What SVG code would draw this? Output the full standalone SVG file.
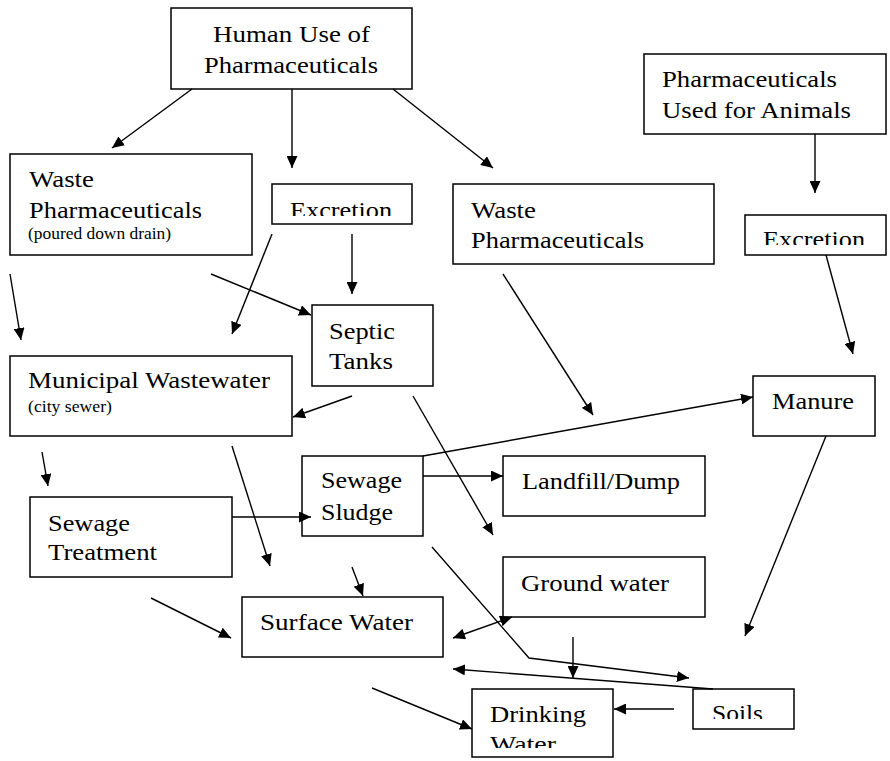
<svg xmlns="http://www.w3.org/2000/svg" width="890" height="761" viewBox="0 0 890 761">
<style>
.box{fill:#fff;stroke:#000;stroke-width:1.5}
.t{font-family:"Liberation Serif","Times New Roman",serif;font-size:24px;fill:#000}
.s{font-family:"Liberation Serif","Times New Roman",serif;font-size:16px;fill:#000}
.c line,.c polyline{stroke:#000;stroke-width:1.4;fill:none}
.a{marker-end:url(#ah)}
.b{marker-start:url(#ahs);marker-end:url(#ah)}
</style>
<defs>
<marker id="ah" markerUnits="userSpaceOnUse" markerWidth="13" markerHeight="11" refX="12" refY="5.5" orient="auto">
<path d="M0,0 L12,5.5 L0,11 z" fill="#000"/>
</marker>
<marker id="ahs" markerUnits="userSpaceOnUse" markerWidth="13" markerHeight="11" refX="0" refY="5.5" orient="auto">
<path d="M12,0 L0,5.5 L12,11 z" fill="#000"/>
</marker>
<clipPath id="cpExL"><rect x="272" y="184" width="140" height="32"/></clipPath>
<clipPath id="cpExR"><rect x="745" y="215" width="141" height="30"/></clipPath>
<clipPath id="cpSoil"><rect x="693" y="689" width="101" height="30"/></clipPath>
<clipPath id="cpDrink"><rect x="472" y="689" width="141" height="59"/></clipPath>
</defs>

<g id="human">
<rect class="box" x="171" y="8" width="241" height="81"/>
<text class="t" x="213" y="42" textLength="157" lengthAdjust="spacingAndGlyphs">Human Use of</text>
<text class="t" x="204" y="73" textLength="174" lengthAdjust="spacingAndGlyphs">Pharmaceuticals</text>
</g>
<g id="animals">
<rect class="box" x="644" y="54" width="242" height="80"/>
<text class="t" x="662" y="87" textLength="175" lengthAdjust="spacingAndGlyphs">Pharmaceuticals</text>
<text class="t" x="662" y="118" textLength="189" lengthAdjust="spacingAndGlyphs">Used for Animals</text>
</g>
<g id="waste-left">
<rect class="box" x="10" y="154" width="242" height="101"/>
<text class="t" x="29" y="187" textLength="65" lengthAdjust="spacingAndGlyphs">Waste</text>
<text class="t" x="29" y="218" textLength="173" lengthAdjust="spacingAndGlyphs">Pharmaceuticals</text>
<text class="s" x="28" y="239" textLength="143" lengthAdjust="spacingAndGlyphs">(poured down drain)</text>
</g>
<g id="excretion-left">
<rect class="box" x="272" y="184" width="140" height="40"/>
<text class="t" x="290" y="218" textLength="102" lengthAdjust="spacingAndGlyphs" clip-path="url(#cpExL)">Excretion</text>
</g>
<g id="waste-right">
<rect class="box" x="453" y="184" width="261" height="80"/>
<text class="t" x="471" y="218" textLength="65" lengthAdjust="spacingAndGlyphs">Waste</text>
<text class="t" x="471" y="248" textLength="173" lengthAdjust="spacingAndGlyphs">Pharmaceuticals</text>
</g>
<g id="excretion-right">
<rect class="box" x="745" y="215" width="141" height="40"/>
<text class="t" x="763" y="247" textLength="102" lengthAdjust="spacingAndGlyphs" clip-path="url(#cpExR)">Excretion</text>
</g>
<g id="septic">
<rect class="box" x="312" y="305" width="121" height="81"/>
<text class="t" x="329" y="339" textLength="66" lengthAdjust="spacingAndGlyphs">Septic</text>
<text class="t" x="329" y="369" textLength="64" lengthAdjust="spacingAndGlyphs">Tanks</text>
</g>
<g id="municipal">
<rect class="box" x="10" y="356" width="282" height="80"/>
<text class="t" x="28" y="388" textLength="242" lengthAdjust="spacingAndGlyphs">Municipal Wastewater</text>
<text class="s" x="28" y="412" textLength="84" lengthAdjust="spacingAndGlyphs">(city sewer)</text>
</g>
<g id="manure">
<rect class="box" x="753" y="376" width="122" height="60"/>
<text class="t" x="772" y="409" textLength="82" lengthAdjust="spacingAndGlyphs">Manure</text>
</g>
<g id="sludge">
<rect class="box" x="302" y="456" width="121" height="80"/>
<text class="t" x="321" y="488" textLength="81" lengthAdjust="spacingAndGlyphs">Sewage</text>
<text class="t" x="321" y="520" textLength="72" lengthAdjust="spacingAndGlyphs">Sludge</text>
</g>
<g id="landfill">
<rect class="box" x="503" y="456" width="202" height="60"/>
<text class="t" x="522" y="489" textLength="158" lengthAdjust="spacingAndGlyphs">Landfill/Dump</text>
</g>
<g id="treatment">
<rect class="box" x="30" y="497" width="202" height="80"/>
<text class="t" x="48" y="531" textLength="82" lengthAdjust="spacingAndGlyphs">Sewage</text>
<text class="t" x="48" y="560" textLength="109" lengthAdjust="spacingAndGlyphs">Treatment</text>
</g>
<g id="ground">
<rect class="box" x="503" y="557" width="202" height="60"/>
<text class="t" x="521" y="591" textLength="148" lengthAdjust="spacingAndGlyphs">Ground water</text>
</g>
<g id="surface">
<rect class="box" x="242" y="597" width="201" height="60"/>
<text class="t" x="260" y="630" textLength="153" lengthAdjust="spacingAndGlyphs">Surface Water</text>
</g>
<g id="drinking">
<rect class="box" x="472" y="689" width="141" height="68"/>
<g clip-path="url(#cpDrink)">
<text class="t" x="490" y="722" textLength="96" lengthAdjust="spacingAndGlyphs">Drinking</text>
<text class="t" x="490" y="752" textLength="66" lengthAdjust="spacingAndGlyphs">Water</text>
</g>
</g>
<g id="soils">
<rect class="box" x="693" y="689" width="101" height="40"/>
<text class="t" x="712" y="721" textLength="51" lengthAdjust="spacingAndGlyphs" clip-path="url(#cpSoil)">Soils</text>
</g>

<g id="connectors" class="c">
<line class="a" x1="192" y1="89" x2="112" y2="148"/>
<line class="a" x1="292" y1="89" x2="292" y2="168"/>
<line class="a" x1="393" y1="89" x2="493" y2="168"/>
<line class="a" x1="815" y1="134" x2="815" y2="193"/>
<line class="a" x1="10" y1="274" x2="21" y2="340"/>
<line class="a" x1="272" y1="234" x2="232" y2="334"/>
<line class="a" x1="211" y1="274" x2="311" y2="315"/>
<line class="a" x1="352" y1="234" x2="352" y2="294"/>
<line class="a" x1="352" y1="396" x2="293" y2="417"/>
<line class="a" x1="42" y1="452" x2="48" y2="486"/>
<line class="a" x1="232" y1="446" x2="270" y2="566"/>
<line class="a" x1="423" y1="456" x2="753" y2="397"/>
<line class="a" x1="423" y1="476" x2="503" y2="476"/>
<line class="a" x1="413" y1="396" x2="493" y2="535"/>
<line class="a" x1="503" y1="274" x2="593" y2="415"/>
<line class="a" x1="826" y1="255" x2="853" y2="354"/>
<line class="a" x1="826" y1="436" x2="745" y2="636"/>
<line class="a" x1="232" y1="517" x2="311" y2="517"/>
<line class="a" x1="151" y1="598" x2="231" y2="638"/>
<line class="a" x1="352" y1="567" x2="363" y2="596"/>
<polyline class="a" points="432,547 529,658 689,678"/>
<line class="b" x1="453" y1="638" x2="512" y2="617"/>
<line class="a" x1="573" y1="637" x2="573" y2="678"/>
<line class="a" x1="713" y1="689" x2="453" y2="669"/>
<line class="a" x1="372" y1="688" x2="472" y2="729"/>
<line class="a" x1="674" y1="709" x2="614" y2="709"/>
</g>
</svg>
